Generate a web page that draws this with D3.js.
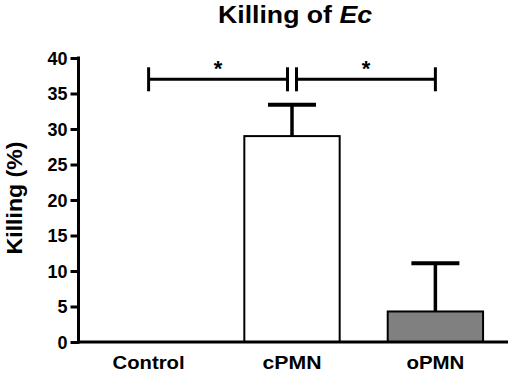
<!DOCTYPE html>
<html><head><meta charset="utf-8">
<script src="https://cdn.jsdelivr.net/npm/d3@7"></script>
<style>body{margin:0;background:#fff}svg{display:block}text{font-family:"Liberation Sans",Arial,sans-serif;font-weight:bold;fill:#000}</style>
</head><body>
<svg id="c" width="510" height="376"></svg>
<script>
const categories = ["Control", "cPMN", "oPMN"];
const means = [0, 29, 4.3];
const errors = [0, 4.4, 6.8];
const fills = ["#ffffff", "#ffffff", "#808080"];
const yTicks = [0, 5, 10, 15, 20, 25, 30, 35, 40];
const labelWidths = [72, 59, 58];
const brackets = [{from: "Control", to: "cPMN", y: 37, side: -1}, {from: "cPMN", to: "oPMN", y: 37, side: 1}];

const svg = d3.select("#c");
const x = d3.scaleBand().domain(categories).range([78, 506]).paddingInner(0.335).paddingOuter(0.16);
const y = d3.scaleLinear().domain([0, 40]).range([342, 58]);

// title
const t = svg.append("text").attr("x", 295).attr("y", 23).attr("text-anchor", "middle")
  .style("font-size", "24px").attr("textLength", 154).attr("lengthAdjust", "spacingAndGlyphs");
t.append("tspan").text("Killing of ");
t.append("tspan").style("font-style", "italic").text("Ec");

// bars
const g = svg.append("g");
categories.forEach((c, i) => {
  if (means[i] > 0) {
    const cx = x(c) + x.bandwidth() / 2;
    g.append("line").attr("x1", cx).attr("x2", cx).attr("y1", y(means[i])).attr("y2", y(means[i] + errors[i]))
      .attr("stroke", "#000").attr("stroke-width", 3.5);
    g.append("line").attr("x1", cx - 24).attr("x2", cx + 24).attr("y1", y(means[i] + errors[i])).attr("y2", y(means[i] + errors[i]))
      .attr("stroke", "#000").attr("stroke-width", 4);
    g.append("rect").attr("x", x(c)).attr("y", y(means[i])).attr("width", x.bandwidth())
      .attr("height", y(0) - y(means[i])).attr("fill", fills[i]).attr("stroke", "#000").attr("stroke-width", 2);
  }
});

// y axis
const ya = svg.append("g").attr("transform", "translate(78.5,0)")
  .call(d3.axisLeft(y).tickValues(yTicks).tickSize(8).tickPadding(3).tickSizeOuter(0));
ya.select(".domain").attr("stroke", "#000").attr("stroke-width", 3).attr("d", `M0,${y(40)-1.5}V${y(0)+1.5}`);
ya.selectAll(".tick line").attr("stroke", "#000").attr("stroke-width", 3);
ya.selectAll(".tick text").style("font-size", "18px").style("font-family", '"Liberation Sans",Arial,sans-serif').style("font-weight", "bold")
  .attr("dy", "0.35em").attr("textLength", d => String(d).length * 10).attr("lengthAdjust", "spacingAndGlyphs");

// x axis
const xa = svg.append("g").attr("transform", `translate(0,${y(0)})`)
  .call(d3.axisBottom(x).tickSize(0).tickPadding(14));
xa.select(".domain").attr("stroke", "#000").attr("stroke-width", 3).attr("d", `M77,0H508`);
xa.selectAll(".tick text").style("font-size", "19px").style("font-family", '"Liberation Sans",Arial,sans-serif').style("font-weight", "bold")
  .attr("textLength", (d, i) => labelWidths[i]).attr("lengthAdjust", "spacingAndGlyphs");

// y title
svg.append("text").attr("transform", "translate(22,198) rotate(-90)").attr("text-anchor", "middle")
  .style("font-size", "22px").attr("textLength", 113).attr("lengthAdjust", "spacingAndGlyphs").text("Killing (%)");

// significance brackets
brackets.forEach(b => {
  const c1 = x(b.from) + x.bandwidth() / 2, c2 = x(b.to) + x.bandwidth() / 2;
  const x1 = b.side < 0 ? c1 : c1 + 4.5;
  const x2 = b.side < 0 ? c2 - 4.5 : c2;
  const yy = y(b.y);
  svg.append("line").attr("x1", x1).attr("x2", x2).attr("y1", yy).attr("y2", yy).attr("stroke", "#000").attr("stroke-width", 3);
  [x1, x2].forEach(xx => svg.append("line").attr("x1", xx).attr("x2", xx).attr("y1", yy - 12).attr("y2", yy + 12)
    .attr("stroke", "#000").attr("stroke-width", 3));
  svg.append("text").attr("x", (x1 + x2) / 2).attr("y", yy - 3).attr("text-anchor", "middle")
    .style("font-size", "22px").style("font-weight", "bold").text("*");
});
</script>
</body></html>
